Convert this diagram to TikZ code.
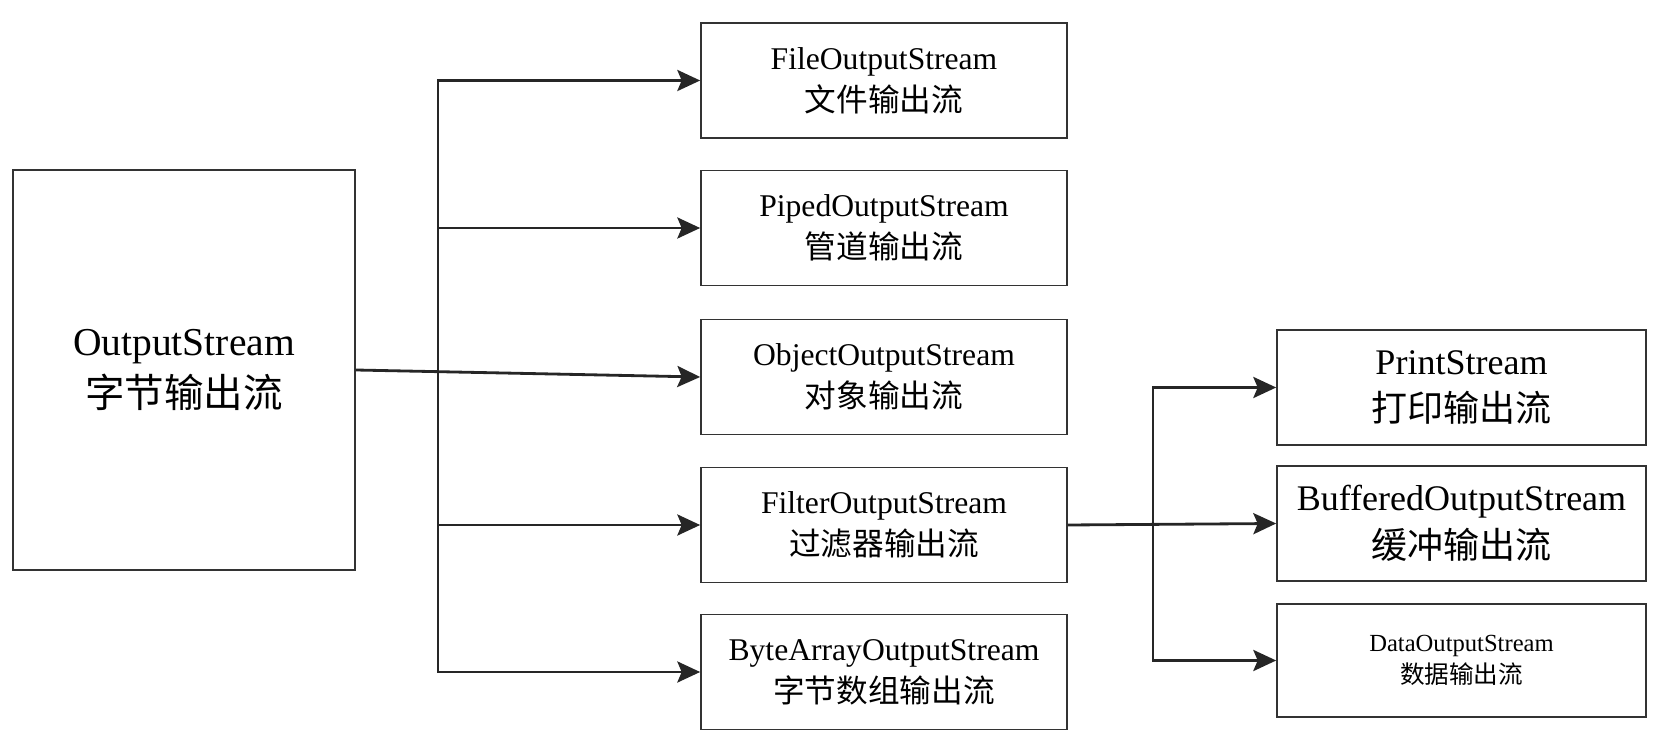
\documentclass[tikz,border=0pt]{standalone}
\usepackage{fontspec}
\setmainfont{Liberation Serif}
\newfontfamily\cjk{Noto Sans CJK SC}
\usetikzlibrary{arrows.meta,calc}

\tikzset{
  cls/.style={draw=black!80, line width=1pt, align=center, inner sep=0pt,
    minimum width=7.32cm, minimum height=2.3cm,
    font=\fontsize{18}{24}\selectfont},
  clsR/.style={cls, minimum width=7.38cm, font=\fontsize{20.5}{27}\selectfont},
  link/.style={line width=1.6pt, draw=black!85, line cap=rect},
  arr/.style={line width=1.6pt, draw=black!85, fill=black!85,
    -{Stealth[length=13pt,width=12pt,inset=2.5pt]}}
}

\begin{document}
\begin{tikzpicture}[x=0.02cm,y=-0.02cm]
\useasboundingbox (0,0) rectangle (1670,746);

\node[cls, minimum width=6.84cm, minimum height=8cm,
  font=\fontsize{22.5}{30}\selectfont] (out) at (184,370)
  {OutputStream\\{\cjk 字节输出流}};

\node[cls] (file)   at (884,80.5) {FileOutputStream\\{\cjk 文件输出流}};
\node[cls] (piped)  at (884,228)  {PipedOutputStream\\{\cjk 管道输出流}};
\node[cls] (obj)    at (884,377)  {ObjectOutputStream\\{\cjk 对象输出流}};
\node[cls] (filter) at (884,525)  {FilterOutputStream\\{\cjk 过滤器输出流}};
\node[cls] (bytes)  at (884,672)  {ByteArrayOutputStream\\{\cjk 字节数组输出流}};

\node[clsR] (print) at (1461.5,387.5) {PrintStream\\{\cjk 打印输出流}};
\node[clsR] (buf)   at (1461.5,523.5) {BufferedOutputStream\\{\cjk 缓冲输出流}};
\node[clsR, minimum height=2.26cm, font=\fontsize{14}{18}\selectfont]
  (data) at (1461.5,660.5) {DataOutputStream\\{\cjk 数据输出流}};

\coordinate (ta) at (438,0);
\coordinate (tb) at (1153,0);

\draw[link] (ta |- file.west) -- (ta |- bytes.west);
\foreach \n in {file,piped,filter,bytes}
  \draw[arr] (ta |- \n.west) -- (\n.west);
\draw[arr] (out.east) -- (obj.west);

\draw[link] (tb |- print.west) -- (tb |- data.west);
\draw[arr] (filter.east) -- (buf.west);
\foreach \n in {print,data}
  \draw[arr] (tb |- \n.west) -- (\n.west);

\end{tikzpicture}
\end{document}
